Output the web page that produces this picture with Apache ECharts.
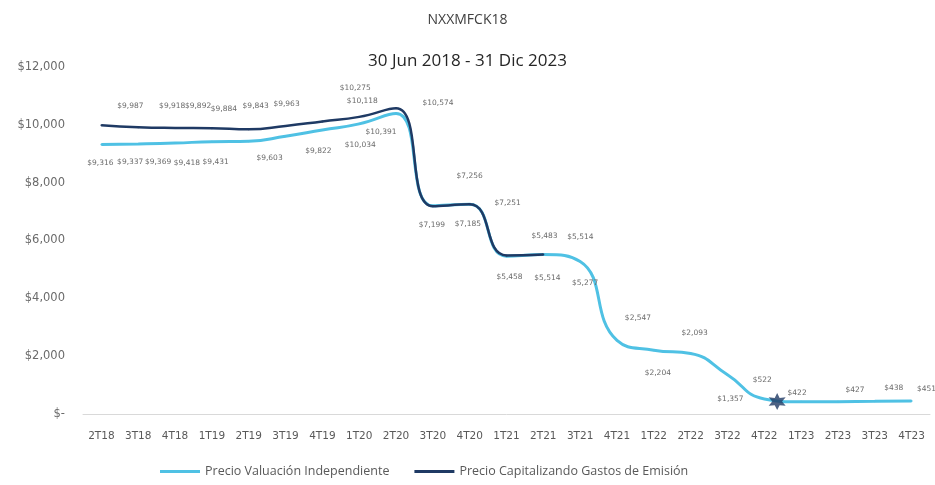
<!DOCTYPE html>
<html>
<head>
<meta charset="utf-8">
<script src="https://cdn.jsdelivr.net/npm/echarts@6/dist/echarts.min.js"></script>
<style>
  html, body { margin: 0; padding: 0; background: #ffffff; }
  #chart { width: 935px; height: 485px; }
</style>
</head>
<body>
<div id="chart"></div>
<script>
// Quarters on the x axis
const quarters = ['2T18','3T18','4T18','1T19','2T19','3T19','4T19','1T20','2T20','3T20','4T20',
  '1T21','2T21','3T21','4T21','1T22','2T22','3T22','4T22','1T23','2T23','3T23','4T23'];

// Independent valuation price, per quarter
const valuacion = [9316, 9337, 9369, 9418, 9431, 9603, 9822, 10034, 10391, 7199, 7256,
  5458, 5514, 5277, 2547, 2204, 2093, 1357, 522, 422, 427, 438, 451];

// Price capitalising issuance costs (reported until 2T21)
const capitalizando = [9987, 9918, 9892, 9884, 9843, 9963, 10118, 10275, 10574, 7185, 7251,
  5483, 5514];

// Marked point near the end of 2022: [quarter position, price]
const marca = [[18.35, 430]];

// Y axis ticks
const yTicks = [0, 2000, 4000, 6000, 8000, 10000, 12000];

// Label nudges [dx, dy] in px, one per point, to keep the value labels readable
const shiftValuacion = [[-1,18],[-8,18],[-17,19],[-25,21],[-33,21],[-16,22],[-4,21],[1,21],[-15,19],
  [-1,19],[0,-28],[3,21],[4,23],[5,22],[21,-22],[4,23],[4,-20],[3,24],[-2,-19],[-4,-9],[17,-12],[19,-13],[15,-12]];
const shiftCapitalizando = [[29,-19],[34,-21],[23,-22],[12,-19],[7,-23],[1,-22],[40,-20],[-4,-29],[42,-5],
  [35,18],[38,-1],[38,-19],[37,-18]];

const money = v => v === 0 ? '$-' : '$' + v.toLocaleString('en-US');

const SYMBOL = 2;
function withLabels(values, shifts) {
  return values.map((v, i) => {
    const s = shifts[i] || [0, 0];
    return {
      value: v,
      // position is measured from the top-left corner of the point's symbol box
      label: { position: [SYMBOL / 2 + s[0], SYMBOL / 2 + s[1]] }
    };
  });
}

// Six-pointed star outline
function starPath() {
  const pts = [];
  for (let k = 0; k < 12; k++) {
    const a = -Math.PI / 2 + k * Math.PI / 6;
    const r = k % 2 === 0 ? 10 : 5;
    pts.push((10 + r * Math.cos(a)).toFixed(2) + ' ' + (10 + r * Math.sin(a)).toFixed(2));
  }
  return 'path://M' + pts.join(' L') + ' Z';
}

const font = '"Open Sans", Lato, sans-serif';
const wideFont = '"DejaVu Sans", Verdana, sans-serif';
const labelStyle = {
  show: true,
  fontSize: 7.5,
  color: '#6b6b6b',
  align: 'center',
  verticalAlign: 'middle',
  fontFamily: wideFont,
  formatter: p => money(p.value)
};

const chart = echarts.init(document.getElementById('chart'));
chart.setOption({
  animation: false,
  backgroundColor: '#ffffff',
  textStyle: { fontFamily: font },
  title: [
    { text: 'NXXMFCK18', left: 'center', top: 8,
      textStyle: { fontSize: 14, fontWeight: 'normal', color: '#404040', fontFamily: font } },
    { text: '30 Jun 2018 - 31 Dic 2023', left: 'center', top: 48,
      textStyle: { fontSize: 17, fontWeight: 'normal', color: '#262626', fontFamily: font } }
  ],
  legend: {
    left: 155, top: 460,
    itemWidth: 40, itemHeight: 3, itemGap: 25,
    icon: 'rect',
    textStyle: { fontSize: 12.5, color: '#595959', fontFamily: font },
    data: [
      { name: 'Precio Valuación Independiente', itemStyle: { color: '#4fc1e4' } },
      { name: 'Precio Capitalizando Gastos de Emisión', itemStyle: { color: '#1f3a64' } }
    ]
  },
  grid: { left: 83, right: 5, top: 67, bottom: 71 },
  xAxis: [
    {
      type: 'category',
      data: quarters,
      boundaryGap: true,
      axisLine: { lineStyle: { color: '#d9d9d9', width: 1 } },
      axisTick: { show: false },
      axisLabel: { fontSize: 10.5, color: '#595959', margin: 17, interval: 0, fontFamily: wideFont }
    },
    { type: 'value', min: -0.5, max: 22.5, show: false }
  ],
  yAxis: {
    type: 'value',
    min: yTicks[0], max: yTicks[yTicks.length - 1], interval: 2000,
    axisLine: { show: false },
    axisTick: { show: false },
    splitLine: { show: false },
    axisLabel: { fontSize: 11.5, color: '#6b6b6b', margin: 18, formatter: money, fontFamily: wideFont }
  },
  series: [
    {
      name: 'Precio Valuación Independiente',
      type: 'line',
      data: withLabels(valuacion, shiftValuacion),
      smooth: 0.5,
      showSymbol: true,
      symbol: 'circle', symbolSize: SYMBOL,
      itemStyle: { color: '#4fc1e4' },
      lineStyle: { color: '#4fc1e4', width: 3 },
      label: labelStyle,
      labelLayout: { hideOverlap: false },
      z: 2
    },
    {
      name: 'Precio Capitalizando Gastos de Emisión',
      type: 'line',
      data: withLabels(capitalizando, shiftCapitalizando),
      smooth: 0.5,
      showSymbol: true,
      symbol: 'circle', symbolSize: SYMBOL,
      itemStyle: { color: '#1f3a64' },
      lineStyle: { color: '#1f3a64', width: 2.5 },
      label: labelStyle,
      labelLayout: { hideOverlap: false },
      z: 3
    },
    {
      name: 'marca',
      type: 'scatter',
      xAxisIndex: 1,
      data: marca,
      symbol: starPath(),
      symbolSize: 17,
      itemStyle: { color: '#1f3a64' },
      z: 4
    }
  ]
});
</script>
</body>
</html>
